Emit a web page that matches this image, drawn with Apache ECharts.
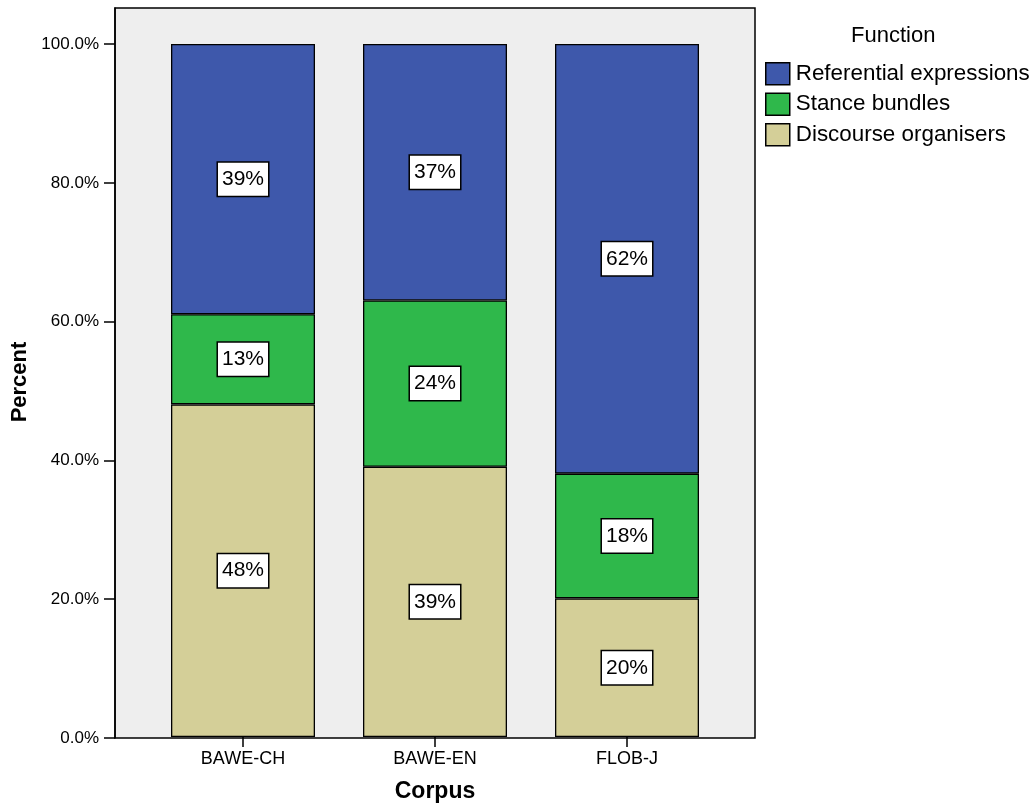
<!DOCTYPE html>
<html>
<head>
<meta charset="utf-8">
<title>Function by Corpus</title>
<script src="https://cdn.jsdelivr.net/npm/echarts@6/dist/echarts.min.js"></script>
<style>
  html, body { margin: 0; padding: 0; background: #ffffff; }
  #chart { width: 1034px; height: 808px; }
</style>
</head>
<body>
<div id="chart"></div>
<script>
// Corpus categories along the x axis
const categories = ['BAWE-CH', 'BAWE-EN', 'FLOB-J'];

// Percent share of each function per corpus (stacked bottom to top)
const discourseOrganisers = [48, 39, 20];
const stanceBundles = [13, 24, 18];
const referentialExpressions = [39, 37, 62];

// Percent tick values on the y axis
const percentTicks = [0, 20, 40, 60, 80, 100];

const FONT = '"Liberation Sans", Arial, Helvetica, sans-serif';
const Y_MAX = 105.2;

const chart = echarts.init(document.getElementById('chart'), null, { renderer: 'canvas' });

function segment(name, data, color) {
  return {
    name: name,
    type: 'bar',
    stack: 'total',
    xAxisIndex: 1,
    yAxisIndex: 1,
    barWidth: '75%',
    data: data,
    itemStyle: { color: color, borderColor: '#000', borderWidth: 1.3 },
    label: {
      show: true,
      position: 'inside',
      formatter: p => p.value + '%',
      fontFamily: FONT,
      fontSize: 21,
      color: '#000',
      backgroundColor: '#ffffff',
      borderColor: '#000',
      borderWidth: 1.5,
      padding: [6, 4, 5, 4],
      lineHeight: 22
    },
    emphasis: { disabled: true }
  };
}

chart.setOption({
  animation: false,
  backgroundColor: '#ffffff',
  textStyle: { fontFamily: FONT },
  title: {
    text: 'Function',
    left: 851,
    top: 25,
    padding: 0,
    textStyle: { fontFamily: FONT, fontSize: 22, fontWeight: 'normal', color: '#000' }
  },
  legend: {
    orient: 'vertical',
    left: 765,
    top: 62,
    padding: 0,
    itemWidth: 24,
    itemHeight: 22,
    itemGap: 7,
    icon: 'rect',
    data: ['Referential expressions', 'Stance bundles', 'Discourse organisers'],
    itemStyle: { borderColor: '#000', borderWidth: 1.5 },
    textStyle: { fontFamily: FONT, fontSize: 22.4, color: '#000', padding: [0, 0, 0, 1] },
    selectedMode: false
  },
  grid: [
    // plot frame with grey background
    { left: 115, right: 279, top: 8, bottom: 70, show: true,
      backgroundColor: '#eeeeee', borderColor: '#000', borderWidth: 1.5 },
    // bar area, inset from the frame on both sides
    { left: 147, right: 311, top: 8, bottom: 70 }
  ],
  xAxis: [
    { type: 'value', gridIndex: 0, show: false, min: 0, max: 1 },
    {
      type: 'category',
      gridIndex: 1,
      data: categories,
      name: 'Corpus',
      nameLocation: 'middle',
      nameGap: 43,
      nameTextStyle: { fontFamily: FONT, fontSize: 23, fontWeight: 'bold', color: '#000' },
      axisLine: { show: false },
      axisTick: { show: true, alignWithLabel: true, length: 10, lineStyle: { color: '#000', width: 1.5 } },
      axisLabel: { fontFamily: FONT, fontSize: 18, color: '#000', margin: 13 }
    }
  ],
  yAxis: [
    {
      type: 'value',
      gridIndex: 0,
      min: 0,
      max: Y_MAX,
      name: 'Percent',
      nameLocation: 'middle',
      nameGap: 81,
      nameTextStyle: { fontFamily: FONT, fontSize: 22, fontWeight: 'bold', color: '#000', padding: [0, 18, 0, 0] },
      splitLine: { show: false },
      axisLine: { show: true, lineStyle: { color: '#000', width: 1.5 } },
      axisTick: { show: true, length: 11, customValues: percentTicks, lineStyle: { color: '#000', width: 1.5 } },
      axisLabel: {
        customValues: percentTicks,
        formatter: v => v.toFixed(1) + '%',
        fontFamily: FONT,
        fontSize: 17,
        color: '#000',
        margin: 16
      }
    },
    { type: 'value', gridIndex: 1, min: 0, max: Y_MAX, show: false, splitLine: { show: false } }
  ],
  series: [
    segment('Discourse organisers', discourseOrganisers, '#d4cf98'),
    segment('Stance bundles', stanceBundles, '#2fb84b'),
    segment('Referential expressions', referentialExpressions, '#3e58ab')
  ]
});
</script>
</body>
</html>
